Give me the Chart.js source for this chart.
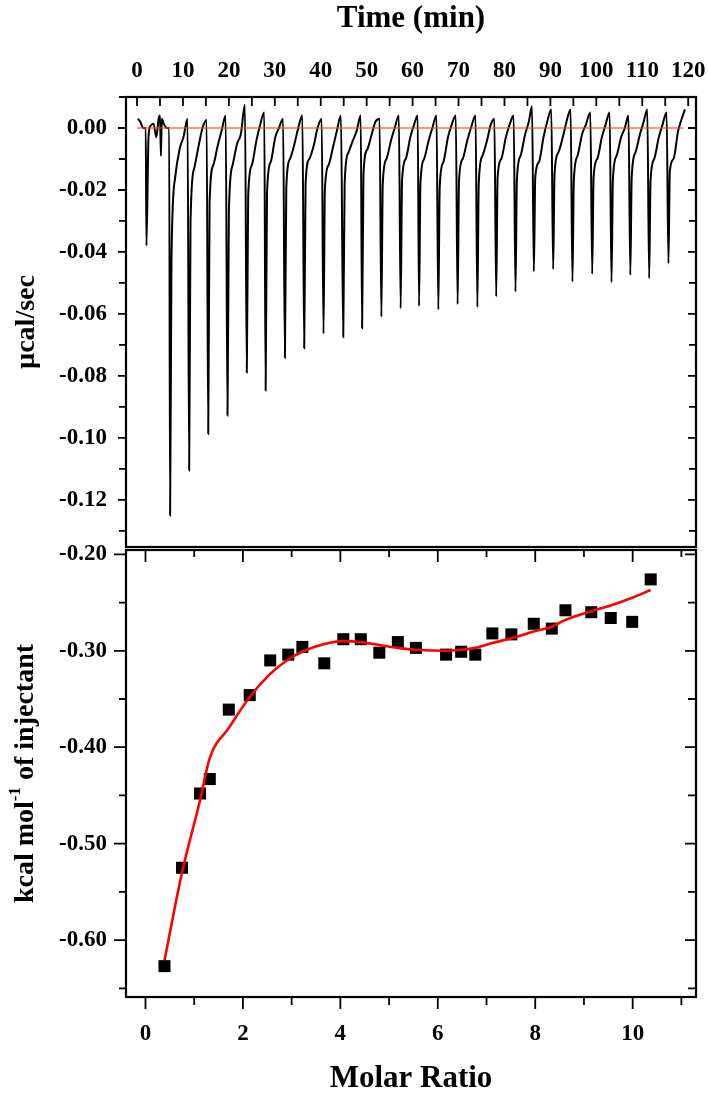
<!DOCTYPE html>
<html>
<head>
<meta charset="utf-8">
<script src="https://cdn.jsdelivr.net/npm/chart.js@4.4.0/dist/chart.umd.min.js"></script>
<style>
    html, body { margin: 0; padding: 0; background: #fff; }
    #wrap { position: relative; width: 708px; height: 1098px; overflow: hidden; }
    #topChart { position: absolute; left: 0; top: 0; }
    #bottomChart { position: absolute; left: 0; top: 520px; }
</style>
</head>
<body>
<div id="wrap">
    <canvas id="topChart" width="708" height="549"></canvas>
    <canvas id="bottomChart" width="708" height="578"></canvas>
</div>
<script>
// Raw thermogram (time in min, power in µcal/sec)
const thermoTime = [
    0.2, 0.7, 1.4, 1.9, 2.05, 2.5, 2.9, 3.6, 4.2, 4.7, 5.0, 5.2, 5.4, 5.8, 6.5, 7.0,
    7.2, 7.5, 8.3, 9.3, 10.1, 11.0,
    11.35, 11.65, 12.45, 13.45, 14.25, 15.15,
    15.5, 15.8, 16.6, 17.6, 18.4, 19.3,
    19.7, 20.0, 20.8, 21.8, 22.6, 23.5,
    23.9, 24.2, 25.0, 26.0, 26.8, 27.7,
    28.0, 28.3, 29.1, 30.1, 30.9, 31.8,
    32.2, 32.5, 33.3, 34.3, 35.1, 36.0,
    36.4, 36.7, 37.5, 38.5, 39.3, 40.2,
    40.6, 40.9, 41.7, 42.7, 43.5, 44.4,
    44.9, 45.2, 46.0, 47.0, 47.8, 48.7,
    49.0, 49.3, 50.1, 51.1, 51.9, 52.8,
    53.2, 53.5, 54.3, 55.3, 56.1, 57.0,
    57.4, 57.7, 58.5, 59.5, 60.3, 61.1,
    61.4, 61.7, 62.5, 63.5, 64.3, 65.2,
    65.6, 65.9, 66.7, 67.7, 68.5, 69.4,
    69.8, 70.1, 70.9, 71.9, 72.7, 73.7,
    74.1, 74.4, 75.2, 76.2, 77.0, 77.8,
    78.2, 78.5, 79.3, 80.3, 81.1, 82.0,
    82.4, 82.7, 83.5, 84.5, 85.3, 86.0,
    86.4, 86.7, 87.5, 88.5, 89.3, 90.2,
    90.6, 90.9, 91.7, 92.7, 93.5, 94.4,
    94.8, 95.1, 95.9, 96.9, 97.7, 98.7,
    99.1, 99.4, 100.2, 101.2, 102.0, 102.9,
    103.3, 103.6, 104.4, 105.4, 106.2, 107.0,
    107.4, 107.7, 108.5, 109.5, 110.3, 111.1,
    111.5, 111.8, 112.6, 113.6, 114.4, 115.3,
    115.7, 116.0, 116.8, 117.8, 118.6, 119.3
];
const thermoPower = [
    0.003, 0.002, 0.000, 0.000, -0.038, -0.003, 0.0006, 0.0014, -0.003, 0.003, 0.004, -0.009, 0.003, 0.0014, 0.000, 0.000,
    -0.125, -0.043, -0.016, -0.0066, -0.003, 0.003,
    -0.1105, -0.030, -0.013, -0.0055, 0.000, 0.0026,
    -0.0987, -0.024, -0.012, -0.0055, -0.001, 0.004,
    -0.0928, -0.027, -0.012, -0.005, -0.002, 0.0075,
    -0.0789, -0.022, -0.012, -0.004, 0.001, 0.005,
    -0.0847, -0.021, -0.011, -0.003, 0.000, 0.003,
    -0.0741, -0.019, -0.010, -0.005, 0.000, 0.004,
    -0.0711, -0.018, -0.010, -0.0055, 0.000, 0.003,
    -0.0664, -0.020, -0.012, -0.006, -0.001, 0.004,
    -0.0675, -0.018, -0.008, -0.004, -0.001, 0.004,
    -0.0646, -0.015, -0.007, -0.002, 0.002, 0.003,
    -0.0609, -0.018, -0.010, -0.004, 0.000, 0.004,
    -0.0582, -0.017, -0.010, -0.003, 0.001, 0.004,
    -0.0574, -0.018, -0.010, -0.004, 0.000, 0.004,
    -0.0586, -0.019, -0.011, -0.003, 0.001, 0.004,
    -0.0569, -0.017, -0.010, -0.004, 0.000, 0.004,
    -0.0578, -0.018, -0.009, -0.004, 0.001, 0.003,
    -0.0544, -0.016, -0.010, -0.003, 0.001, 0.004,
    -0.0528, -0.017, -0.009, -0.002, 0.002, 0.007,
    -0.0463, -0.016, -0.011, -0.003, 0.002, 0.006,
    -0.0456, -0.015, -0.008, -0.003, 0.002, 0.006,
    -0.0496, -0.017, -0.009, -0.002, 0.001, 0.005,
    -0.0471, -0.016, -0.010, -0.003, 0.001, 0.005,
    -0.0498, -0.017, -0.009, -0.003, 0.000, 0.004,
    -0.0474, -0.016, -0.008, -0.002, 0.002, 0.006,
    -0.0485, -0.017, -0.010, -0.003, 0.001, 0.005,
    -0.0437, -0.014, -0.010, -0.001, 0.003, 0.006
];
const baseTime = [0, 119];
const basePower = [0, 0];
const timeLabels = [0, 10, 20, 30, 40, 50, 60, 70, 80, 90, 100, 110, 120];
const powerLabels = [-0.12, -0.10, -0.08, -0.06, -0.04, -0.02, 0.00];

// Integrated heats
const molarRatio = [0.39, 0.75, 1.12, 1.32, 1.71, 2.14, 2.56, 2.93, 3.22, 3.67, 4.06, 4.42, 4.80, 5.18,
    5.55, 6.17, 6.48, 6.77, 7.12, 7.51, 7.97, 8.34, 8.62, 9.15, 9.55, 9.99, 10.37];
const heat = [-0.627, -0.525, -0.448, -0.433, -0.361, -0.346, -0.310, -0.304, -0.296, -0.313, -0.288, -0.288,
    -0.302, -0.291, -0.297, -0.304, -0.301, -0.304, -0.282, -0.283, -0.272, -0.277, -0.258, -0.260, -0.266,
    -0.270, -0.226];
const fitHeat = [-0.621, -0.530, -0.455, -0.411, -0.380, -0.348, -0.324, -0.309, -0.301, -0.293, -0.290,
    -0.291, -0.294, -0.297, -0.299, -0.300, -0.299, -0.297, -0.292, -0.287, -0.280, -0.275, -0.268, -0.259,
    -0.253, -0.245, -0.237];
const ratioLabels = [0, 2, 4, 6, 8, 10];
const heatLabels = [-0.60, -0.50, -0.40, -0.30, -0.20];

const serif = "'Liberation Serif', 'Times New Roman', serif";
const tickFont = { family: serif, size: 23, weight: 'bold' };
const titleFont = { family: serif, size: 31, weight: 'bold' };
const yTitleFont = { family: serif, size: 28, weight: 'bold' };

function pts(xs, ys) {
    return xs.map((x, i) => ({ x: x, y: ys[i] }));
}

// fixed axis sizes, no extra room for overhanging labels
function fixWidth(w) {
    return s => { s.width = w; s.paddingTop = 0; s.paddingBottom = 0; };
}
function fixHeight(h) {
    return s => { s.height = h; s.paddingLeft = 0; s.paddingRight = 0; };
}

// box around the plot plus the tick marks on all four sides
const frameTicks = {
    id: 'frameTicks',
    afterDatasetsDraw(chart, args, opts) {
        const { ctx, chartArea: a, scales } = chart;
        ctx.save();
        ctx.strokeStyle = '#000';
        ctx.lineWidth = 1.8;
        ctx.beginPath();
        opts.sides.forEach(s => {
            s.values.forEach(t => {
                const len = t.major ? s.major : s.minor;
                if (s.edge === 'top' || s.edge === 'bottom') {
                    const x = scales.x.getPixelForValue(t.v);
                    const y0 = s.edge === 'top' ? a.top : a.bottom;
                    const dir = (s.edge === 'top') === s.inward ? 1 : -1;
                    ctx.moveTo(x, y0);
                    ctx.lineTo(x, y0 + dir * len);
                } else {
                    const y = scales.y.getPixelForValue(t.v);
                    const x0 = s.edge === 'left' ? a.left : a.right;
                    const dir = (s.edge === 'left') === s.inward ? 1 : -1;
                    ctx.moveTo(x0, y);
                    ctx.lineTo(x0 + dir * len, y);
                }
            });
        });
        ctx.stroke();
        ctx.lineWidth = 2.2;
        ctx.strokeRect(a.left, a.top, a.right - a.left, a.bottom - a.top);
        if (opts.yTitle) {
            // rotated title with a superscript
            const t = opts.yTitle;
            ctx.fillStyle = '#000';
            ctx.translate(t.x, (a.top + a.bottom) / 2);
            ctx.rotate(-Math.PI / 2);
            ctx.textBaseline = 'middle';
            ctx.textAlign = 'left';
            const big = 'bold 28px ' + serif;
            const small = 'bold 17px ' + serif;
            ctx.font = big;
            const w1 = ctx.measureText(t.before).width;
            const w3 = ctx.measureText(t.after).width;
            ctx.font = small;
            const w2 = ctx.measureText(t.sup).width;
            const x = -(w1 + w2 + w3) / 2;
            ctx.font = big;
            ctx.fillText(t.before, x, 0);
            ctx.font = small;
            ctx.fillText(t.sup, x + w1, -10);
            ctx.font = big;
            ctx.fillText(t.after, x + w1 + w2, 0);
        }
        ctx.restore();
    }
};

// tick positions for the frame
const topTimeTicks = [];
for (let i = 0; i <= 24; i++) topTimeTicks.push({ v: i * 5, major: i % 2 === 0 });
const topPowerTicks = [];
for (let i = -13; i <= 1; i++) topPowerTicks.push({ v: i / 100, major: i % 2 === 0 });
const ratioTicks = [];
for (let i = 0; i <= 11; i++) ratioTicks.push({ v: i, major: i % 2 === 0 });
const heatTicks = [];
for (let i = -13; i <= -4; i++) heatTicks.push({ v: i * 0.05, major: i % 2 === 0 });

// Thermogram
new Chart(document.getElementById('topChart'), {
    type: 'scatter',
    data: {
        datasets: [
            {
                data: pts(baseTime, basePower),
                showLine: true,
                borderColor: 'rgba(255, 60, 60, 0.75)',
                borderWidth: 1.5,
                pointRadius: 0,
                order: 0
            },
            {
                data: pts(thermoTime, thermoPower),
                showLine: true,
                borderColor: '#000',
                borderWidth: 2,
                pointRadius: 0,
                cubicInterpolationMode: 'monotone',
                order: 1
            }
        ]
    },
    options: {
        responsive: false,
        animation: false,
        devicePixelRatio: 1,
        layout: { padding: { left: 0, right: 12, top: 0, bottom: 2 } },
        plugins: {
            legend: { display: false },
            tooltip: { enabled: false },
            frameTicks: {
                sides: [
                    { edge: 'top', inward: true, values: topTimeTicks, major: 9, minor: 9 },
                    { edge: 'left', inward: false, values: topPowerTicks, major: 8, minor: 7 },
                    { edge: 'right', inward: true, values: topPowerTicks, major: 8, minor: 7 }
                ]
            }
        },
        scales: {
            x: {
                type: 'linear',
                position: 'top',
                min: -2.4,
                max: 121.7,
                grid: { display: false, drawTicks: false },
                border: { display: false },
                ticks: {
                    autoSkip: false,
                    maxRotation: 0,
                    padding: 12,
                    color: '#000',
                    font: tickFont,
                    callback: v => String(v)
                },
                afterBuildTicks: s => { s.ticks = timeLabels.map(v => ({ value: v })); },
                title: { display: true, text: 'Time (min)', color: '#000', font: titleFont, padding: { top: 0, bottom: 0 } },
                afterFit: fixHeight(97)
            },
            y: {
                type: 'linear',
                min: -0.1352,
                max: 0.01,
                grid: { display: false, drawTicks: false },
                border: { display: false },
                ticks: {
                    autoSkip: false,
                    padding: 19,
                    color: '#000',
                    font: tickFont,
                    callback: v => v.toFixed(2)
                },
                afterBuildTicks: s => { s.ticks = powerLabels.map(v => ({ value: v })); },
                title: { display: true, text: 'µcal/sec', color: '#000', font: yTitleFont, padding: { top: 10, bottom: 0 } },
                afterFit: fixWidth(126)
            }
        }
    },
    plugins: [frameTicks]
});

// Integrated heats and fit
new Chart(document.getElementById('bottomChart'), {
    type: 'scatter',
    data: {
        datasets: [
            {
                data: pts(molarRatio, fitHeat),
                showLine: true,
                borderColor: '#ff0000',
                borderWidth: 2.6,
                pointRadius: 0,
                cubicInterpolationMode: 'monotone',
                order: 0
            },
            {
                data: pts(molarRatio, heat),
                pointStyle: 'rect',
                pointRadius: 8.5,
                backgroundColor: '#000',
                borderWidth: 0,
                order: 1
            }
        ]
    },
    options: {
        responsive: false,
        animation: false,
        devicePixelRatio: 1,
        layout: { padding: { left: 0, right: 12, top: 30, bottom: 0 } },
        plugins: {
            legend: { display: false },
            tooltip: { enabled: false },
            frameTicks: {
                sides: [
                    { edge: 'top', inward: true, values: ratioTicks, major: 12, minor: 7 },
                    { edge: 'bottom', inward: false, values: ratioTicks, major: 12, minor: 8 },
                    { edge: 'left', inward: false, values: heatTicks, major: 12, minor: 7 },
                    { edge: 'right', inward: true, values: heatTicks, major: 11, minor: 8 }
                ],
                yTitle: { x: 26, before: 'kcal mol', sup: '-1', after: ' of injectant' }
            }
        },
        scales: {
            x: {
                type: 'linear',
                position: 'bottom',
                min: -0.4,
                max: 11.3,
                grid: { display: false, drawTicks: false },
                border: { display: false },
                ticks: {
                    autoSkip: false,
                    maxRotation: 0,
                    padding: 23,
                    color: '#000',
                    font: tickFont,
                    callback: v => String(v)
                },
                afterBuildTicks: s => { s.ticks = ratioLabels.map(v => ({ value: v })); },
                title: { display: true, text: 'Molar Ratio', color: '#000', font: titleFont, padding: { top: 0, bottom: 0 } },
                afterFit: fixHeight(101)
            },
            y: {
                type: 'linear',
                min: -0.659,
                max: -0.1955,
                grid: { display: false, drawTicks: false },
                border: { display: false },
                ticks: {
                    autoSkip: false,
                    padding: 19,
                    color: '#000',
                    font: tickFont,
                    callback: v => v.toFixed(2)
                },
                afterBuildTicks: s => { s.ticks = heatLabels.map(v => ({ value: v })); },
                afterFit: fixWidth(126)
            }
        }
    },
    plugins: [frameTicks]
});
</script>
</body>
</html>
